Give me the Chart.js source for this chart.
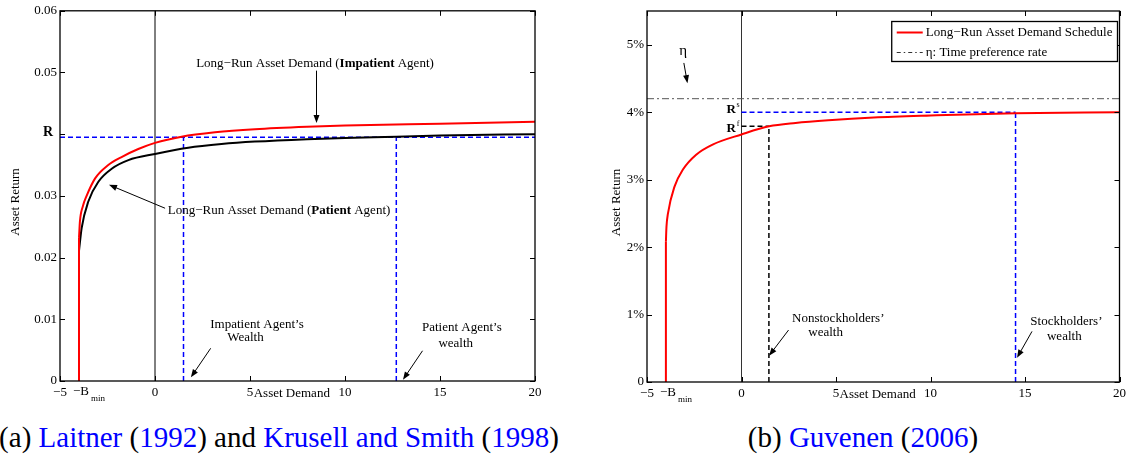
<!DOCTYPE html>
<html>
<head>
<meta charset="utf-8">
<script src="https://cdn.jsdelivr.net/npm/chart.js@4.4.1/dist/chart.umd.min.js"></script>
<style>
  html, body { margin: 0; padding: 0; background: #fff; }
  body { width: 1130px; height: 456px; position: relative; overflow: hidden; font-family: "Liberation Serif", serif; }
  .panel { position: absolute; top: 0; width: 565px; height: 410px; }
  .caption { position: absolute; top: 421px; width: 640px; font-size: 29px; line-height: 32px; white-space: nowrap; text-align: center; color: #000; }
  .caption .c { color: #0000ff; }
</style>
</head>
<body>
<div class="panel" style="left:0"><canvas id="chartA"></canvas></div>
<div class="panel" style="left:565px"><canvas id="chartB"></canvas></div>
<div class="caption" style="left:-41px">(a) <span class="c">Laitner</span> (<span class="c">1992</span>) and <span class="c">Krusell and Smith</span> (<span class="c">1998</span>)</div>
<div class="caption" style="left:543px">(b) <span class="c">Guvenen</span> (<span class="c">2006</span>)</div>
<script>
const xTicks = [-5, 0, 5, 10, 15, 20];
const bMin = -4;

// (a) Laitner / Krusell-Smith
const yTicksA = [0, 0.01, 0.02, 0.03, 0.04, 0.05, 0.06];
const hiddenTickA = 0.04; // replaced by the R label
const impatientX = [-4, -3.95, -3.8, -3.6, -3.16, -2.46, -1.76, -0.88, 0, 1.4, 3.16, 5.26, 8, 10, 15, 20];
const impatientY = [0.0232, 0.0259, 0.0283, 0.0300, 0.0328, 0.0350, 0.0363, 0.0376, 0.0386, 0.0396, 0.0403, 0.0408, 0.0412, 0.0414, 0.0417, 0.0420];
const patientX = [-4, -3.86, -3.51, -2.98, -2.28, -1.4, 0, 1.75, 3.5, 5.26, 8, 10, 12.7, 15, 20];
const patientY = [0.0211, 0.0248, 0.0291, 0.0323, 0.0344, 0.0358, 0.0368, 0.0378, 0.0384, 0.0388, 0.0392, 0.0394, 0.0396, 0.0398, 0.0400];
const rateA = 0.0395;
const impatientWealth = 1.5;
const patientWealth = 12.7;

// (b) Guvenen, in percent
const yTicksB = [0, 1, 2, 3, 4, 5];
const demandX = [-4, -3.97, -3.89, -3.54, -3.1, -2.4, -1.53, 0, 1.46, 2.86, 4.6, 7, 10, 14.5, 20];
const demandY = [2.08, 2.3, 2.5, 2.9, 3.15, 3.37, 3.52, 3.67, 3.79, 3.84, 3.88, 3.92, 3.95, 3.985, 4.0];
const eta = 4.2;
const rStock = 4.0;
const rFree = 3.79;
const nonstockWealth = 1.45;
const stockWealth = 14.5;

const FONT = '"Liberation Serif", serif';
Chart.defaults.font.family = FONT;
Chart.defaults.color = '#000';

const pts = (xs, ys) => xs.map((x, i) => ({ x, y: ys[i] }));
const seg = (x1, y1, x2, y2) => [{ x: x1, y: y1 }, { x: x2, y: y2 }];

function line(data, color, width, dash, extra) {
    return Object.assign({
        data, borderColor: color, borderWidth: width, borderDash: dash || [],
        showLine: true, pointRadius: 0, fill: false
    }, extra || {});
}

function richText(ctx, parts, x, y, size, align) {
    let w = 0;
    parts.forEach(([t, b]) => { ctx.font = (b ? 'bold ' : '') + size + 'px ' + FONT; w += ctx.measureText(t).width; });
    let cx = align === 'center' ? x - w / 2 : align === 'right' ? x - w : x;
    ctx.textAlign = 'left';
    ctx.textBaseline = 'middle';
    parts.forEach(([t, b]) => {
        ctx.font = (b ? 'bold ' : '') + size + 'px ' + FONT;
        ctx.fillText(t, cx, y);
        cx += ctx.measureText(t).width;
    });
}

function arrow(ctx, x1, y1, x2, y2) {
    const a = Math.atan2(y2 - y1, x2 - x1), L = 8, W = 3;
    const c = Math.cos(a), s = Math.sin(a);
    ctx.beginPath();
    ctx.moveTo(x1, y1);
    ctx.lineTo(x2 - L * 0.7 * c, y2 - L * 0.7 * s);
    ctx.stroke();
    ctx.beginPath();
    ctx.moveTo(x2, y2);
    ctx.lineTo(x2 - L * c + W * s, y2 - L * s - W * c);
    ctx.lineTo(x2 - L * c - W * s, y2 - L * s + W * c);
    ctx.closePath();
    ctx.fill();
}

// Matlab style box with inward ticks, plus axis titles and -B_min
const frame = {
    id: 'frame',
    afterDatasetsDraw(chart) {
        const { ctx, chartArea: a, scales: { x, y } } = chart;
        ctx.save();
        ctx.strokeStyle = '#000';
        ctx.lineWidth = 1.3;
        ctx.strokeRect(a.left, a.top, a.right - a.left, a.bottom - a.top);
        ctx.lineWidth = 1;
        ctx.beginPath();
        x.ticks.forEach(t => {
            const p = Math.round(x.getPixelForValue(t.value)) + 0.5;
            ctx.moveTo(p, a.bottom); ctx.lineTo(p, a.bottom - 5);
            ctx.moveTo(p, a.top); ctx.lineTo(p, a.top + 5);
        });
        y.ticks.forEach(t => {
            const p = Math.round(y.getPixelForValue(t.value)) + 0.5;
            ctx.moveTo(a.left, p); ctx.lineTo(a.left + 5, p);
            ctx.moveTo(a.right, p); ctx.lineTo(a.right - 5, p);
        });
        ctx.stroke();

        ctx.fillStyle = '#000';
        // -B_min under its tick
        const bx = x.getPixelForValue(bMin);
        ctx.font = '13px ' + FONT;
        ctx.textBaseline = 'middle';
        ctx.textAlign = 'right';
        ctx.fillText('\u2212B', bx + 10, a.bottom + 11);
        ctx.font = '9px ' + FONT;
        ctx.textAlign = 'left';
        ctx.fillText('min', bx + 12, a.bottom + 18);
        // axis titles
        ctx.font = '13px ' + FONT;
        ctx.textAlign = 'center';
        ctx.fillText('Asset Demand', x.getPixelForValue(7.2), a.bottom + 13);
        ctx.save();
        ctx.translate(chart.options.plugins.frame.titleX, (a.top + a.bottom) / 2 + 6);
        ctx.rotate(-Math.PI / 2);
        ctx.fillText('Asset Return', 0, 0);
        ctx.restore();
        ctx.restore();
    }
};

const notesA = {
    id: 'notesA',
    afterDatasetsDraw(chart) {
        const { ctx, scales: { x, y } } = chart;
        const P = (vx, vy) => [x.getPixelForValue(vx), y.getPixelForValue(vy)];
        ctx.save();
        ctx.fillStyle = '#000';
        ctx.strokeStyle = '#000';
        ctx.lineWidth = 1;
        richText(ctx, [['Long\u2212Run Asset Demand (', false], ['Impatient', true], [' Agent)', false]], ...P(8.42, 0.0514), 13, 'center');
        arrow(ctx, ...P(8.5, 0.0503), ...P(8.5, 0.0418));
        richText(ctx, [['Long\u2212Run Asset Demand (', false], ['Patient', true], [' Agent)', false]], ...P(6.53, 0.02766), 13, 'center');
        arrow(ctx, ...P(0.53, 0.0280), ...P(-2.42, 0.0318));
        richText(ctx, [['Impatient Agent\u2019s', false]], ...P(5.37, 0.0092), 13, 'center');
        richText(ctx, [['Wealth', false]], ...P(4.76, 0.0070), 13, 'center');
        arrow(ctx, ...P(2.93, 0.0053), ...P(1.89, 0.0006));
        richText(ctx, [['Patient Agent\u2019s', false]], ...P(16.15, 0.0086), 13, 'center');
        richText(ctx, [['wealth', false]], ...P(15.83, 0.0060), 13, 'center');
        arrow(ctx, ...P(14.08, 0.0049), ...P(13.05, 0.0002));
        // R label left of the axis
        const [ax, ry] = P(-5, rateA);
        ctx.font = 'bold 14px ' + FONT;
        ctx.textAlign = 'right';
        ctx.textBaseline = 'alphabetic';
        ctx.fillText('R', ax - 7, ry - 1.5);
        ctx.restore();
    }
};

const notesB = {
    id: 'notesB',
    afterDatasetsDraw(chart) {
        const { ctx, chartArea: a, scales: { x, y } } = chart;
        const P = (vx, vy) => [x.getPixelForValue(vx), y.getPixelForValue(vy)];
        ctx.save();
        ctx.fillStyle = '#000';
        ctx.strokeStyle = '#000';
        ctx.lineWidth = 1;
        richText(ctx, [['\u03b7', false]], ...P(-3.09, 4.9), 15, 'center');
        arrow(ctx, ...P(-3.05, 4.73), ...P(-2.86, 4.43));
        richText(ctx, [['Nonstockholders\u2019', false]], ...P(5.12, 0.94), 13, 'center');
        richText(ctx, [['wealth', false]], ...P(4.45, 0.73), 13, 'center');
        arrow(ctx, ...P(2.49, 0.77), ...P(1.46, 0.39));
        richText(ctx, [['Stockholders\u2019', false]], ...P(17.19, 0.90), 13, 'center');
        richText(ctx, [['wealth', false]], ...P(17.08, 0.68), 13, 'center');
        arrow(ctx, ...P(15.37, 0.75), ...P(14.58, 0.36));

        // R^s and R^f labels
        const x0 = x.getPixelForValue(0);
        ctx.textBaseline = 'alphabetic';
        [[rStock, 's', 1], [rFree, 'f', 6]].forEach(([v, sup, dy]) => {
            const py = y.getPixelForValue(v) + dy;
            ctx.font = '8px ' + FONT;
            ctx.textAlign = 'right';
            ctx.fillText(sup, x0 - 2, py - 6);
            ctx.font = 'bold 13px ' + FONT;
            ctx.fillText('R', x0 - 5.5, py);
        });

        // legend box
        const labels = ['Long\u2212Run Asset Demand Schedule', '\u03b7: Time preference rate'];
        ctx.font = '13px ' + FONT;
        const tw = Math.max(...labels.map(t => ctx.measureText(t).width));
        const bw = 5 + 26 + 3 + tw + 5, bh = 40;
        const bl = a.right - 2 - bw, bt = a.top + 10.5;
        ctx.fillStyle = '#fff';
        ctx.fillRect(bl, bt, bw, bh);
        ctx.lineWidth = 1.3;
        ctx.strokeRect(bl, bt, bw, bh);
        const styles = [['#ff0000', 2, []], ['#333', 1, [4, 3, 1.5, 3]]];
        labels.forEach((t, i) => {
            const ly = bt + 11 + i * 20;
            ctx.beginPath();
            ctx.strokeStyle = styles[i][0];
            ctx.lineWidth = styles[i][1];
            ctx.setLineDash(styles[i][2]);
            ctx.moveTo(bl + 5, ly); ctx.lineTo(bl + 31, ly);
            ctx.stroke();
            ctx.setLineDash([]);
            ctx.fillStyle = '#000';
            ctx.textAlign = 'left';
            ctx.textBaseline = 'middle';
            ctx.fillText(t, bl + 34, ly);
        });
        ctx.restore();
    }
};

function scales(yMin, yMax, yTicks, yFmt, yWidth, xHeight) {
    const tickFont = { family: FONT, size: 13 };
    return {
        x: {
            type: 'linear', min: -5, max: 20,
            afterBuildTicks: s => { s.ticks = xTicks.map(v => ({ value: v })); },
            afterFit: s => { s.height = xHeight; },
            grid: { display: false, drawTicks: false },
            border: { display: false },
            ticks: { padding: 4, color: '#000', font: tickFont, maxRotation: 0, autoSkip: false,
                     callback: v => v < 0 ? '\u2212' + Math.abs(v) : String(v) }
        },
        y: {
            type: 'linear', min: yMin, max: yMax,
            afterBuildTicks: s => { s.ticks = yTicks.map(v => ({ value: v })); },
            afterFit: s => { s.width = yWidth; },
            grid: { display: false, drawTicks: false },
            border: { display: false },
            ticks: { padding: 3, color: '#000', font: tickFont, autoSkip: false, callback: yFmt }
        }
    };
}

const smooth = { cubicInterpolationMode: 'monotone' };

new Chart(document.getElementById('chartA'), {
    type: 'scatter',
    data: {
        datasets: [
            line(pts(impatientX, impatientY), '#ff0000', 2, null, smooth),
            line(seg(bMin, 0, bMin, impatientY[0]), '#ff0000', 2),
            line(pts(patientX, patientY), '#000', 2, null, smooth),
            line(seg(bMin, 0, bMin, patientY[0]), '#000', 2),
            line(seg(-5, rateA, 20, rateA), '#0000ff', 1.5, [5, 3]),
            line(seg(impatientWealth, 0, impatientWealth, rateA), '#0000ff', 1.5, [5, 3]),
            line(seg(patientWealth, 0, patientWealth, rateA), '#0000ff', 1.5, [5, 3]),
            line(seg(0, 0, 0, 0.06), '#000', 1)
        ]
    },
    options: {
        responsive: true,
        maintainAspectRatio: false,
        animation: false,
        layout: { padding: { left: 0, right: 30, top: 7, bottom: 0 } },
        plugins: { legend: { display: false }, tooltip: { enabled: false }, frame: { titleX: 16 } },
        scales: scales(0, 0.06, yTicksA, v => v === 0 ? '0' : Math.abs(v - hiddenTickA) < 1e-9 ? '' : v.toFixed(2), 60, 29)
    },
    plugins: [frame, notesA]
});

new Chart(document.getElementById('chartB'), {
    type: 'scatter',
    data: {
        datasets: [
            line(pts(demandX, demandY), '#ff0000', 2, null, smooth),
            line(seg(bMin, 0, bMin, demandY[0]), '#ff0000', 2),
            line(seg(0, rStock, stockWealth, rStock), '#0000ff', 1.5, [5, 3]),
            line(seg(stockWealth, 0, stockWealth, rStock), '#0000ff', 1.5, [5, 3]),
            line(seg(0, rFree, nonstockWealth, rFree), '#000', 1.5, [5, 3]),
            line(seg(nonstockWealth, 0, nonstockWealth, rFree), '#000', 1.5, [5, 3]),
            line(seg(-5, eta, 20, eta), '#555', 1, [7, 3, 2, 3]),
            line(seg(0, 0, 0, 5.5), '#333', 1)
        ]
    },
    options: {
        responsive: true,
        maintainAspectRatio: false,
        animation: false,
        layout: { padding: { left: 0, right: 8, top: 11, bottom: 0 } },
        plugins: { legend: { display: false }, tooltip: { enabled: false }, frame: { titleX: 52 } },
        scales: scales(0, 5.5, yTicksB, v => v === 0 ? '0' : v + '%', 82, 28)
    },
    plugins: [frame, notesB]
});
</script>
</body>
</html>
